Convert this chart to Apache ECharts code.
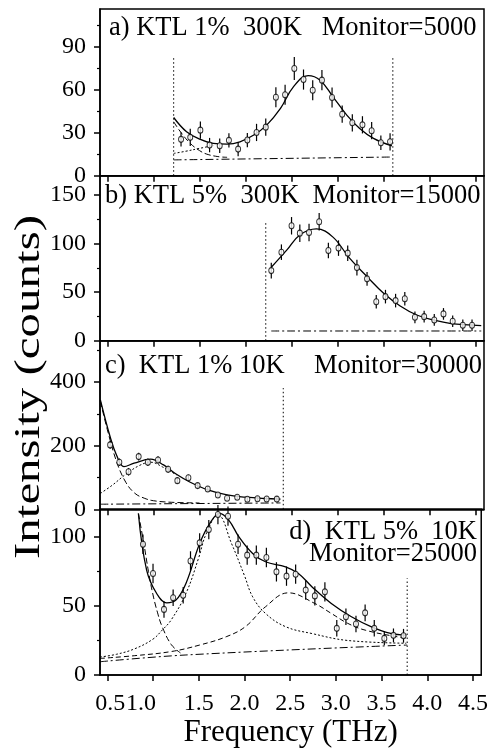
<!DOCTYPE html>
<html><head><meta charset="utf-8">
<script src="https://cdn.jsdelivr.net/npm/echarts@6/dist/echarts.min.js"></script>
<style>html,body{margin:0;padding:0;background:#fff}#c{width:491px;height:751px}</style>
</head><body><div id="c"></div>
<script>
// ---------- data ----------
const xTickValues = [0.5, 1.0, 1.5, 2.0, 2.5, 3.0, 3.5, 4.0, 4.5];

// panel a) KTL 1% 300K
const aFreq = [1.30,1.40,1.51,1.61,1.72,1.82,1.92,2.02,2.12,2.22,2.33,2.43,2.53,2.63,2.73,2.83,2.94,3.05,3.16,3.27,3.37,3.47,3.57];
const aInt  = [25.3,26.7,31.7,21.3,20.8,24.6,18.5,24.8,30.1,33.8,54.6,56.3,74.6,66.9,59.5,66.5,54.4,42.8,36.8,35.4,31.3,22.9,23.6];
const aErr  = [5,6,6,5,5,5,5,5,6,6,7,7,8,7,7,7,7,6,6,6,6,5,6];
const aFit  = [[1.22,40.5],[1.36,30.6],[1.51,25.3],[1.65,22.5],[1.80,22],[1.94,23.6],[2.09,28.3],[2.23,35.2],[2.38,46.8],[2.52,61.8],[2.68,69.7],[2.81,66.5],[2.95,54.9],[3.10,42.2],[3.24,32.9],[3.39,26],[3.59,20.8]];
const aQE   = [[1.22,37.5],[1.30,30],[1.40,22.5],[1.50,17.5],[1.58,15],[1.70,13.3],[1.80,12.8]];
const aDHO  = [[1.22,15.5],[1.35,17],[1.50,19],[1.65,21]];
const aBg   = [[1.22,11],[3.59,13]];
const aVlines = [1.22, 3.60];
const aVtop = 83;

// panel b) KTL 5% 300K
const bFreq = [2.28,2.39,2.50,2.59,2.69,2.80,2.90,3.01,3.11,3.21,3.32,3.42,3.52,3.63,3.73,3.84,3.94,4.05,4.15,4.25,4.36,4.46];
const bInt  = [72.2,91.2,118.4,110.8,111.5,122.5,92.9,95.4,90.2,75.3,63.7,40.2,45.4,41.3,43.3,24.1,24.8,21.4,27.6,20,15.9,15.9];
const bErr  = [8,8,9,9,9,9,8,8,8,8,7,7,7,7,7,6,6,6,6,6,6,6];
const bFit  = [[2.28,75.7],[2.45,93.6],[2.59,109],[2.77,115.3],[2.95,106.7],[3.13,85],[3.32,66],[3.50,48.9],[3.68,35.8],[3.86,26.5],[4.04,21.4],[4.22,17.9],[4.56,15.5]];
const bBg   = [[2.28,10],[4.56,10]];
const bVlines = [2.22];
const bVtop = 122;

// panel c) KTL 1% 10K
const cFreq = [0.53,0.63,0.73,0.84,0.94,1.05,1.16,1.26,1.38,1.48,1.59,1.70,1.80,1.91,2.02,2.13,2.23,2.34];
const cInt  = [202.5,148,118,165.7,148,155,126,90,99,74.5,64,45,34.6,37.8,31.5,33.4,32.4,32];
const cErr  = [12,12,12,12,12,12,11,10,10,9,9,8,8,8,8,8,8,8];
const cFit  = [[0.424,344],[0.53,228],[0.60,170],[0.68,134],[0.79,145],[0.97,157.5],[1.11,139.5],[1.25,110],[1.40,85],[1.60,60],[1.80,45],[2.00,38],[2.20,34],[2.38,32]];
const cQE   = [[0.424,340],[0.50,250],[0.60,150],[0.70,85],[0.80,50],[0.90,35],[1.00,27],[1.20,22],[1.50,20]];
const cDHO  = [[0.424,50],[0.55,75],[0.70,110],[0.85,138],[0.97,148],[1.10,133],[1.25,108]];
const cBg   = [[0.424,16],[2.38,20]];
const cVlines = [2.41];
const cVtop = 381;

// panel d) KTL 5% 10K
const dFreq = [0.89,1.00,1.12,1.22,1.33,1.41,1.51,1.61,1.71,1.82,1.93,2.03,2.13,2.24,2.35,2.46,2.56,2.67,2.77,2.88,3.01,3.11,3.22,3.32,3.42,3.53,3.63,3.74];
const dInt  = [94.7,73.5,47.5,55.9,57.8,82.6,95.7,105.3,116.2,115,94.7,86.8,86.8,85.1,74.7,71.6,73,61.5,57.3,60.2,33.8,42.2,36.9,45,33.8,26.5,28.7,28.4];
const dErr  = [7,7,6,6,6,7,7,7,7,7,7,7,7,7,7,7,7,7,7,7,6,6,6,6,6,5,5,5];
const dFit  = [[0.84,117],[0.93,76],[1.04,59],[1.15,52.3],[1.25,54.2],[1.36,66.3],[1.51,95.2],[1.62,109.7],[1.73,117],[1.83,112],[1.94,100],[2.09,88],[2.23,82],[2.45,78.3],[2.59,73.5],[2.74,63.8],[2.95,51.8],[3.17,42.2],[3.39,34.9],[3.60,30.1],[3.77,28.9]];
const dQE   = [[0.84,117],[0.90,95],[0.95,75],[1.00,58],[1.05,45],[1.10,35],[1.20,22],[1.30,16]];
const dP1   = [[0.42,13],[0.60,15],[0.80,19],[1.00,26],[1.10,32.5],[1.20,40],[1.36,59],[1.50,85],[1.58,102],[1.71,116],[1.86,95],[2.00,72],[2.09,56.6],[2.23,44.6],[2.45,35],[2.74,30],[3.13,25],[3.77,23]];
const dP2   = [[0.42,12],[0.80,14],[1.20,17],[1.51,21.7],[1.80,27.7],[2.01,35],[2.23,49.4],[2.48,59.5],[2.77,51.8],[2.95,44.6],[3.13,37.4],[3.32,32.5],[3.67,27.7],[3.78,27]];
const dBg   = [[0.42,9.6],[1.36,14.5],[3.78,21.7]];
const dVlines = [3.78];
const dVtop = 70;

const yMaxes  = [116, 170, 530, 120];
const yMajors = [[0,30,60,90],[0,50,100,150],[0,200,400],[0,50,100]];
const yMinors = [[15,45,75,105],[25,75,125],[100,300,500],[25,75]];

// ---------- chart ----------
const FONT = '"Liberation Serif","Times New Roman",serif';
const tops = [9, 175.7, 340.7, 509.3];
const bottoms = [175.7, 340.7, 509.3, 675];
const panels = [
  {freq:aFreq,int:aInt,err:aErr,fit:aFit,comps:[[aQE,[6,3]],[aDHO,[2,2]],[aBg,[8,3,2,3]]],vl:aVlines,vt:aVtop},
  {freq:bFreq,int:bInt,err:bErr,fit:bFit,comps:[[bBg,[8,3,2,3]]],vl:bVlines,vt:bVtop},
  {freq:cFreq,int:cInt,err:cErr,fit:cFit,comps:[[cQE,[6,3]],[cDHO,[2,2]],[cBg,[8,3,2,3]]],vl:cVlines,vt:cVtop},
  {freq:dFreq,int:dInt,err:dErr,fit:dFit,comps:[[dQE,[6,3]],[dP1,[2,2]],[dP2,[5,3]],[dBg,[8,3,2,3]]],vl:dVlines,vt:dVtop}
];

const grid=[], xAxis=[], yAxis=[], series=[];
panels.forEach((p,i)=>{
  grid.push({left:100,right:7,top:tops[i],height:bottoms[i]-tops[i],show:true,borderColor:'#000',borderWidth:1.5,backgroundColor:'transparent'});
  xAxis.push({gridIndex:i,type:'value',min:0.42,max:4.59,
    axisLine:{show:true,onZero:false,lineStyle:{color:'#000',width:1.5}},
    axisTick:{show:true,length:6,customValues:xTickValues,lineStyle:{color:'#000',width:1.5}},
    axisLabel:{show:i===3,customValues:xTickValues,color:'#000',fontFamily:FONT,fontSize:24,margin:17,
      hideOverlap:false,showMinLabel:true,showMaxLabel:true,
      formatter:v=>{ if(Math.abs(v-1)<1e-6) return '1.0    '; if(Math.abs(v-0.5)<1e-6) return ' 0.5'; return v.toFixed(1);}},
    splitLine:{show:false},
    name:i===3?'Frequency (THz)':'',nameLocation:'middle',nameGap:38,
    nameTextStyle:{fontFamily:FONT,fontSize:31,color:'#000'}
  });
  yAxis.push({gridIndex:i,type:'value',position:'left',min:0,max:yMaxes[i],
    axisLine:{show:true,lineStyle:{color:'#000',width:1.5}},
    axisTick:{show:true,length:6,customValues:yMajors[i],lineStyle:{color:'#000',width:1.5}},
    axisLabel:{customValues:yMajors[i],color:'#000',fontFamily:FONT,fontSize:24,margin:14,hideOverlap:false},
    splitLine:{show:false}});
  yAxis.push({gridIndex:i,type:'value',position:'left',offset:0,min:0,max:yMaxes[i],
    axisLine:{show:false},
    axisTick:{show:true,length:3,customValues:yMinors[i],lineStyle:{color:'#000',width:1.2}},
    axisLabel:{show:false},splitLine:{show:false}});
  const yi = 2*i;
  p.vl.forEach(x=>{
    series.push({type:'line',xAxisIndex:i,yAxisIndex:yi,data:[[x,0],[x,p.vt]],symbol:'none',silent:true,
      lineStyle:{color:'#000',width:1,type:[1.5,2.5]},z:1});
  });
  p.comps.forEach(([d,t])=>{
    series.push({type:'line',xAxisIndex:i,yAxisIndex:yi,data:d,symbol:'none',smooth:0.4,silent:true,
      lineStyle:{color:'#000',width:1,type:t},z:2});
  });
  series.push({type:'line',xAxisIndex:i,yAxisIndex:yi,data:p.fit,symbol:'none',smooth:0.4,silent:true,
    lineStyle:{color:'#000',width:1.3},z:3});
  series.push({type:'custom',xAxisIndex:i,yAxisIndex:yi,
    data:p.freq.map((f,k)=>[f,p.int[k]-p.err[k],p.int[k]+p.err[k]]),
    encode:{x:0,y:[1,2]},
    renderItem:(params,api)=>{
      const a=api.coord([api.value(0),api.value(1)]);
      const b=api.coord([api.value(0),api.value(2)]);
      return {type:'line',shape:{x1:a[0],y1:a[1],x2:b[0],y2:b[1]},style:{stroke:'#000',lineWidth:1.2}};
    },z:4});
  series.push({type:'scatter',xAxisIndex:i,yAxisIndex:yi,data:p.freq.map((f,k)=>[f,p.int[k]]),
    symbol:'circle',symbolSize:[5,6],itemStyle:{color:'#fff',borderColor:'#000',borderWidth:1},z:5});
});

const ts = {fontFamily:FONT,fontSize:26.5,fontWeight:'normal',color:'#000'};
const option = {
  backgroundColor:'#fff',
  animation:false,
  title:[
    {text:'a) KTL 1%  300K   Monitor=5000',left:109,top:15,padding:0,textStyle:ts},
    {text:'b) KTL 5%  300K  Monitor=15000',left:105,top:183,padding:0,textStyle:ts},
    {text:'c)  KTL 1% 10K',left:105,top:353,padding:0,textStyle:ts},
    {text:'Monitor=30000',right:9,top:353,padding:0,textStyle:ts},
    {text:'d)  KTL 5%  10K',right:14,top:519,padding:0,textStyle:ts},
    {text:'Monitor=25000',right:14,top:541,padding:0,textStyle:ts}
  ],
  graphic:[{type:'text',x:30,y:387,rotation:Math.PI/2,scaleX:1.36,
    style:{text:'Intensity (counts)',fontFamily:FONT,fontSize:36,fill:'#000',align:'center',verticalAlign:'middle'}}],
  grid, xAxis, yAxis, series
};
const chart = echarts.init(document.getElementById('c'));
chart.setOption(option);
</script>
</body></html>
